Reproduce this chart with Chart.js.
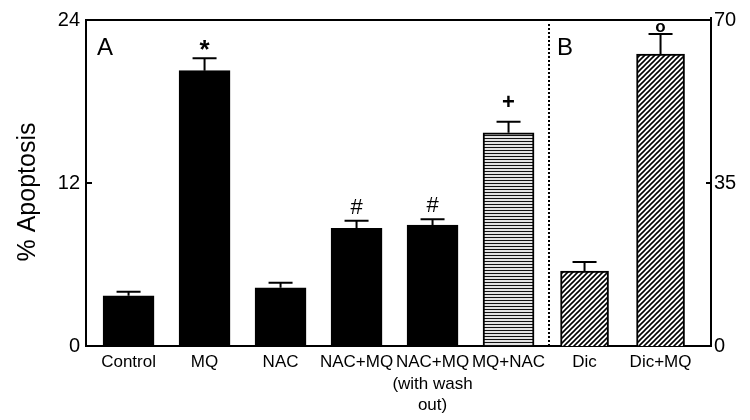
<!DOCTYPE html>
<html>
<head>
<meta charset="utf-8">
<script src="https://cdn.jsdelivr.net/npm/chart.js@4/dist/chart.umd.min.js"></script>
<style>
  html, body { margin: 0; padding: 0; background: #fff; }
  #wrap { width: 750px; height: 420px; }
</style>
</head>
<body>
<div id="wrap"><canvas id="chart" width="750" height="420"></canvas></div>
<script>
// Panel A on the left axis (0-24), panel B on the right axis (0-70)
const categories = ['Control', 'MQ', 'NAC', 'NAC+MQ', ['NAC+MQ', '(with wash', 'out)'], 'MQ+NAC', 'Dic', 'Dic+MQ'];
const panelA = [3.70, 20.27, 4.29, 8.66, 8.91, 15.70];
const panelAErr = [0.30, 0.91, 0.37, 0.56, 0.42, 0.81];
const panelB = [16.1, 62.7];
const panelBErr = [1.94, 4.29];
const marks = ['', '*', '', '#', '#', '+', '', 'o'];
const leftTicks = [0, 12, 24];
const rightTicks = [0, 35, 70];

const FONT = 'Arial, "Liberation Sans", sans-serif';
const canvas = document.getElementById('chart');
const ctx = canvas.getContext('2d');

function makePattern(kind) {
  const c = document.createElement('canvas');
  const p = c.getContext('2d');
  if (kind === 'lines') {
    c.width = 6; c.height = 3;
    p.fillStyle = '#e2e2e2';
    p.fillRect(0, 0, 6, 3);
    p.fillStyle = '#111';
    p.fillRect(0, 0, 6, 1);
  } else {
    const s = 5;
    c.width = s; c.height = s;
    p.fillStyle = '#fff';
    p.fillRect(0, 0, s, s);
    p.strokeStyle = '#000';
    p.lineWidth = 1.6;
    p.beginPath();
    p.moveTo(0, s); p.lineTo(s, 0);
    p.moveTo(-1, 1); p.lineTo(1, -1);
    p.moveTo(s - 1, s + 1); p.lineTo(s + 1, s - 1);
    p.stroke();
  }
  return ctx.createPattern(c, 'repeat');
}

const hLines = makePattern('lines');
const diag = makePattern('diag');

// glyph bottom lift above the error cap, per symbol
const markGap = { '*': 8, '#': 7, '+': 15, 'o': 2 };
const markFont = { '*': 'bold 26px ', '#': '22px ', '+': 'bold 22px ', 'o': 'bold 17px ' };

const noGrid = { display: false, drawTicks: false, tickLength: 0 };

const extras = {
  id: 'extras',
  afterDatasetsDraw(chart) {
    const c = chart.ctx;
    const area = chart.chartArea;
    const xs = chart.scales.x;
    c.save();
    c.strokeStyle = '#000';
    c.fillStyle = '#000';

    // top border, right axis line pokes a little above it
    c.lineWidth = 2;
    c.beginPath();
    c.moveTo(area.left - 1, area.top);
    c.lineTo(area.right + 1, area.top);
    c.moveTo(area.right, area.top);
    c.lineTo(area.right, area.top - 3);
    c.stroke();

    // inward tick marks on both y axes
    const ly = chart.scales.y, ry = chart.scales.y2;
    c.beginPath();
    leftTicks.slice(1, -1).forEach(v => {
      const y = ly.getPixelForValue(v);
      c.moveTo(area.left, y); c.lineTo(area.left + 6, y);
    });
    rightTicks.slice(1, -1).forEach(v => {
      const y = ry.getPixelForValue(v);
      c.moveTo(area.right - 5, y); c.lineTo(area.right, y);
    });
    c.stroke();

    // dotted divider between panels
    const dx = Math.round(xs.getPixelForValue(panelA.length - 0.5)) + 2;
    c.setLineDash([2, 2]);
    c.beginPath();
    c.moveTo(dx, area.top + 4);
    c.lineTo(dx, area.bottom);
    c.stroke();
    c.setLineDash([]);

    // error bars + significance marks
    const sets = [[0, panelA, panelAErr, ly], [1, panelB, panelBErr, ry]];
    let k = 0;
    sets.forEach(([di, vals, errs, scale]) => {
      const meta = chart.getDatasetMeta(di);
      meta.data.forEach((bar, i) => {
        const top = scale.getPixelForValue(vals[i]);
        const cap = scale.getPixelForValue(vals[i] + errs[i]);
        c.lineWidth = 2;
        c.beginPath();
        c.moveTo(bar.x, top);
        c.lineTo(bar.x, cap);
        c.moveTo(bar.x - 12, cap);
        c.lineTo(bar.x + 12, cap);
        c.stroke();

        const m = marks[k++];
        if (m) {
          c.font = markFont[m] + FONT;
          c.textAlign = 'center';
          c.textBaseline = 'alphabetic';
          const desc = c.measureText(m).actualBoundingBoxDescent;
          c.fillText(m, bar.x, cap - markGap[m] - desc);
        }
      });
    });

    // panel letters
    c.font = '24px ' + FONT;
    c.textAlign = 'left';
    c.textBaseline = 'alphabetic';
    c.fillText('A', area.left + 11, area.top + 35);
    c.fillText('B', dx + 8, area.top + 35);

    // y axis title
    c.translate(28, 192);
    c.rotate(-Math.PI / 2);
    c.font = '25px ' + FONT;
    c.textAlign = 'center';
    c.textBaseline = 'middle';
    c.fillText('% Apoptosis', 0, 0);
    c.restore();
  }
};

new Chart(ctx, {
  type: 'bar',
  data: {
    datasets: [{
      data: panelA.map((v, i) => ({ x: i, y: v })),
      yAxisID: 'y',
      backgroundColor: panelA.map((v, i) => i === panelA.length - 1 ? hLines : '#000'),
      borderColor: '#000',
      borderWidth: 2,
      barThickness: 51,
      grouped: false
    }, {
      data: panelB.map((v, i) => ({ x: panelA.length + i, y: v })),
      yAxisID: 'y2',
      backgroundColor: diag,
      borderColor: '#000',
      borderWidth: 2,
      barThickness: 48,
      grouped: false
    }]
  },
  options: {
    responsive: false,
    animation: false,
    devicePixelRatio: 1,
    layout: { padding: { top: 20, left: 0, right: 0, bottom: 0 } },
    plugins: { legend: { display: false }, tooltip: { enabled: false } },
    scales: {
      x: {
        type: 'linear',
        offset: false,
        min: -0.56,
        max: 7.664,
        grid: noGrid,
        border: { display: true, color: '#000', width: 2 },
        afterBuildTicks: s => { s.ticks = categories.map((c, i) => ({ value: i })); },
        afterFit: s => { s.height = 74; },
        ticks: {
          autoSkip: false,
          maxRotation: 0,
          padding: 6,
          color: '#000',
          font: { family: FONT, size: 17, lineHeight: 1.25 },
          callback: v => categories[v]
        }
      },
      y: {
        position: 'left',
        min: 0,
        max: 24,
        grid: noGrid,
        border: { display: true, color: '#000', width: 2 },
        afterBuildTicks: s => { s.ticks = leftTicks.map(v => ({ value: v })); },
        afterFit: s => { s.width = 86; },
        ticks: { padding: 6, color: '#000', font: { family: FONT, size: 20 } }
      },
      y2: {
        position: 'right',
        min: 0,
        max: 70,
        grid: noGrid,
        border: { display: true, color: '#000', width: 2 },
        afterBuildTicks: s => { s.ticks = rightTicks.map(v => ({ value: v })); },
        afterFit: s => { s.width = 39; },
        ticks: { padding: 3, color: '#000', font: { family: FONT, size: 20 } }
      }
    }
  },
  plugins: [extras]
});
</script>
</body>
</html>
